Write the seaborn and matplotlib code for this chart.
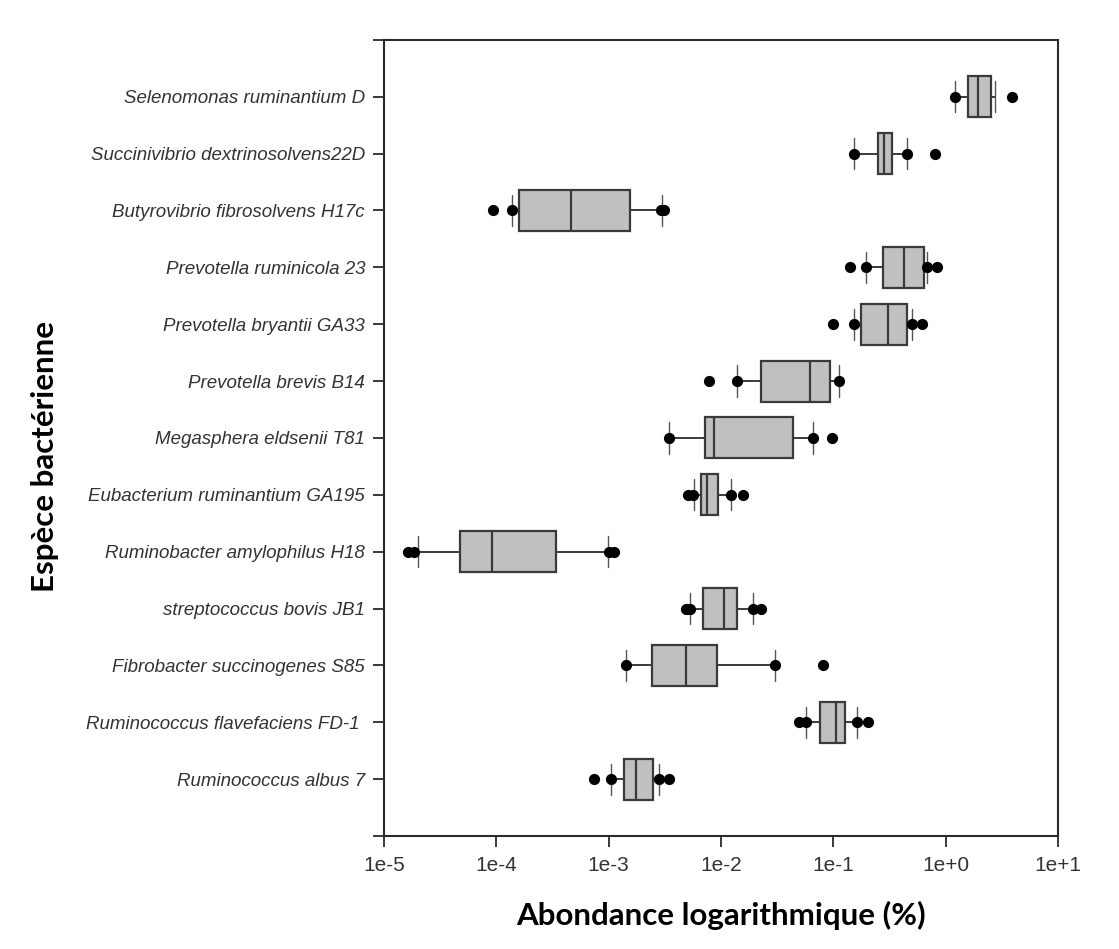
import matplotlib
matplotlib.use("Agg")
from matplotlib import pyplot as plt
from matplotlib.ticker import NullLocator
import seaborn as sns
import pandas as pd
import numpy as np

species = ['Selenomonas ruminantium D', 'Succinivibrio dextrinosolvens22D',
           'Butyrovibrio fibrosolvens H17c', 'Prevotella ruminicola 23',
           'Prevotella bryantii GA33', 'Prevotella brevis B14',
           'Megasphera eldsenii T81', 'Eubacterium ruminantium GA195',
           'Ruminobacter amylophilus H18', 'streptococcus bovis JB1',
           'Fibrobacter succinogenes S85', 'Ruminococcus flavefaciens FD-1 ',
           'Ruminococcus albus 7']

q1 = [1.59, 0.248, 1.58e-4, 0.276, 0.177, 0.0227, 7.28e-3,
      6.67e-3, 4.73e-5, 6.96e-3, 2.42e-3, 0.0767, 1.38e-3]
med = [1.95, 0.283, 4.59e-4, 0.423, 0.307, 0.0615, 8.71e-3,
       7.48e-3, 9.12e-5, 0.0107, 4.84e-3, 0.1057, 1.76e-3]
q3 = [2.54, 0.332, 1.56e-3, 0.647, 0.457, 0.0942, 0.0438,
      9.35e-3, 3.43e-4, 0.0138, 9.25e-3, 0.128, 2.49e-3]
whislo = [1.22, 0.152, 1.38e-4, 0.195, 0.154, 0.0139, 3.42e-3,
          5.73e-3, 2.0e-5, 5.35e-3, 1.42e-3, 0.0573, 1.05e-3]
whishi = [2.73, 0.454, 2.97e-3, 0.689, 0.505, 0.1135, 0.0665,
          0.0123, 9.96e-4, 0.0194, 0.0302, 0.163, 2.84e-3]

# points drawn beyond / at the whisker ends
dots = [[1.22, 3.93],
        [0.152, 0.454, 0.809],
        [9.3e-5, 1.38e-4, 2.9e-3, 3.1e-3],
        [0.142, 0.195, 0.689, 0.845],
        [0.100, 0.154, 0.505, 0.619],
        [7.9e-3, 0.0139, 0.1135],
        [3.42e-3, 0.0665, 0.0968],
        [5.06e-3, 5.6e-3, 0.0123, 0.0156],
        [1.65e-5, 1.85e-5, 1.0e-3, 1.12e-3],
        [4.9e-3, 5.3e-3, 0.0194, 0.0229],
        [1.42e-3, 0.0302, 0.0817],
        [0.0492, 0.0573, 0.163, 0.204],
        [7.36e-4, 1.05e-3, 2.84e-3, 3.42e-3]]

xtick_vals = [1e-5, 1e-4, 1e-3, 1e-2, 1e-1, 1e0, 1e1]
xtick_labels = ['1e-5', '1e-4', '1e-3', '1e-2', '1e-1', '1e+0', '1e+1']

sns.set_theme(style="ticks")
plt.rcParams['font.family'] = ['Liberation Sans', 'DejaVu Sans']

fig = plt.figure(figsize=(11.19, 9.49), dpi=100)
ax = fig.add_axes([0.343, 0.119, 0.6025, 0.839])
ax.set_xscale('log')

edge = '#3a3a3a'
positions = np.arange(len(species))
stats = [dict(med=m, q1=a, q3=b, whislo=lo, whishi=hi, fliers=[])
         for a, m, b, lo, hi in zip(q1, med, q3, whislo, whishi)]
ax.bxp(stats, positions=positions, orientation='horizontal', widths=0.72,
       capwidths=0.55, patch_artist=True, showfliers=False, manage_ticks=False,
       boxprops=dict(facecolor='#c0c0c0', edgecolor=edge, linewidth=1.6),
       medianprops=dict(color=edge, linewidth=1.6),
       whiskerprops=dict(color=edge, linewidth=1.4),
       capprops=dict(color='#555555', linewidth=1.0))

rows = [(i, v) for i, vals in enumerate(dots) for v in vals]
df = pd.DataFrame(rows, columns=['pos', 'value'])
sns.scatterplot(data=df, x='value', y='pos', color='black', s=65,
                linewidth=0, ax=ax, zorder=3, legend=False)

ax.set_xlim(1e-5, 10)
ax.set_ylim(13, -1)
ax.set_xticks(xtick_vals)
ax.set_xticklabels(xtick_labels, fontsize=15, color='#333333')
ax.xaxis.set_minor_locator(NullLocator())
ax.set_yticks(np.arange(-1, 14))
ax.set_yticklabels([''] + species + [''], fontsize=13.5, style='italic',
                   color='#333333')

for s in ax.spines.values():
    s.set_linewidth(1.5)
    s.set_color('#2b2b2b')
ax.tick_params(axis='both', direction='out', length=8, width=1.3,
               color='#2b2b2b')
ax.tick_params(axis='y', pad=5.5)
ax.tick_params(axis='x', pad=6)

ax.set_xlabel('Abondance logarithmique (%)', fontsize=22.5, fontweight='bold',
              family='Lato', color='black')
ax.set_ylabel('Espèce bactérienne', fontsize=22.5, fontweight='bold',
              family='Lato', color='black')
ax.xaxis.set_label_coords(0.5, -0.081)
ax.yaxis.set_label_coords(-0.482, 0.477)

fig.savefig('out.png', dpi=100)
